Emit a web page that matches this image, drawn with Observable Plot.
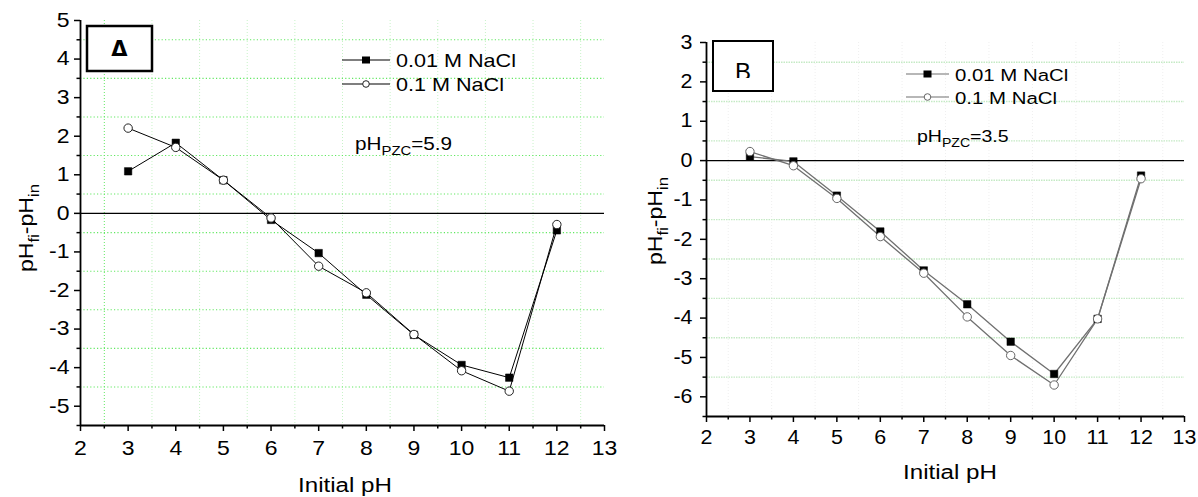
<!DOCTYPE html>
<html>
<head>
<meta charset="utf-8">
<script src="https://cdn.jsdelivr.net/npm/d3@7"></script>
<script src="https://cdn.jsdelivr.net/npm/@observablehq/plot@0.6"></script>
<style>
  html, body { margin: 0; padding: 0; background: #fff; }
  #wrap { position: relative; width: 1198px; height: 497px; overflow: hidden; }
  #wrap svg { position: absolute; top: 0; overflow: visible; }
</style>
</head>
<body>
<div id="wrap"></div>
<script>
// ---------- data ----------
const pHInitial = [3, 4, 5, 6, 7, 8, 9, 10, 11, 12];
const seriesNames = ["0.01 M NaCl", "0.1 M NaCl"];
// Panel A
const A_001 = [1.09, 1.83, 0.86, -0.17, -1.03, -2.11, -3.15, -3.93, -4.26, -0.44];
const A_01  = [2.21, 1.71, 0.86, -0.12, -1.37, -2.06, -3.14, -4.08, -4.61, -0.29];
// Panel B
const B_001 = [0.10, -0.02, -0.89, -1.80, -2.79, -3.65, -4.60, -5.42, -4.02, -0.38];
const B_01  = [0.23, -0.13, -0.96, -1.93, -2.86, -3.97, -4.95, -5.70, -4.02, -0.46];
const panelLetters = ["\u0394", "B"];
const pzcValues = ["5.9", "3.5"];
// ticks
const xTicks = [2, 3, 4, 5, 6, 7, 8, 9, 10, 11, 12, 13];
const xMinor = [2.5, 3.5, 4.5, 5.5, 6.5, 7.5, 8.5, 9.5, 10.5, 11.5, 12.5];
const yTicksA = [-5, -4, -3, -2, -1, 0, 1, 2, 3, 4, 5];
const yMinorA = [-5.5, -4.5, -3.5, -2.5, -1.5, -0.5, 0.5, 1.5, 2.5, 3.5, 4.5];
const yTicksB = [-6, -5, -4, -3, -2, -1, 0, 1, 2, 3];
const yMinorB = [-6.5, -5.5, -4.5, -3.5, -2.5, -1.5, -0.5, 0.5, 1.5, 2.5];

const FONT = "'Liberation Sans', Arial, Helvetica, sans-serif";
const rows = (ys) => pHInitial.map((x, i) => ({x, y: ys[i]}));

function makePanel(cfg) {
  const marks = [
    Plot.ruleX(cfg.vGridFaint, {x: d => d, stroke: cfg.vGridFaintColor, strokeDasharray: "1,2", strokeWidth: 1}),
    Plot.ruleX(cfg.vGridStrong, {x: d => d, stroke: cfg.gridColor, strokeDasharray: "1,2", strokeWidth: 1}),
    Plot.ruleY(cfg.hGrid, {y: d => d, stroke: cfg.gridColor, strokeDasharray: cfg.gridDash, strokeWidth: cfg.gridWidth}),
    Plot.ruleY([0], {stroke: "#000", strokeWidth: 1.2}),
    Plot.axisX({ticks: xTicks, tickSize: 6, tickPadding: cfg.xPad, tickFormat: d => String(d), label: null, stroke: "#000", strokeWidth: 1.5}),
    Plot.axisX({ticks: xMinor, tickSize: 3.5, tickFormat: () => "", label: null, stroke: "#000", strokeWidth: 1.5}),
    Plot.axisY({ticks: cfg.yTicks, tickSize: 6, tickPadding: cfg.yPad, tickFormat: d => String(d), label: null, stroke: "#000", strokeWidth: 1.5}),
    Plot.axisY({ticks: cfg.yMinor, tickSize: 3.5, tickFormat: () => "", label: null, stroke: "#000", strokeWidth: 1.5}),
    Plot.ruleX([2], {stroke: "#000", strokeWidth: 1.8}),
    Plot.ruleY([cfg.yDomain[0]], {stroke: "#000", strokeWidth: 1.8}),
    Plot.line(rows(cfg.s1), {x: "x", y: "y", stroke: cfg.lineColor, strokeWidth: cfg.lineWidth}),
    Plot.line(rows(cfg.s2), {x: "x", y: "y", stroke: cfg.lineColor, strokeWidth: cfg.lineWidth}),
    Plot.dot(rows(cfg.s1), {x: "x", y: "y", symbol: "square", r: 4.2, fill: "#000", stroke: "#000", strokeWidth: 0.5}),
    Plot.dot(rows(cfg.s2), {x: "x", y: "y", symbol: "circle", r: 4.2, fill: "#fff", stroke: cfg.circleStroke, strokeWidth: 1})
  ];
  const svg = Plot.plot({
    width: cfg.width, height: 497,
    marginLeft: cfg.ml, marginRight: cfg.mr, marginTop: cfg.mt, marginBottom: cfg.mb,
    x: {domain: [2, 13], label: null},
    y: {domain: cfg.yDomain, label: null},
    style: {fontFamily: FONT, color: "#000", background: "transparent"},
    marks
  });
  svg.style.left = cfg.left + "px";
  // enlarge & stretch tick labels like the reference
  d3.select(svg).selectAll('g[aria-label$="tick label"] text').each(function () {
    const t = d3.select(this);
    const tr = t.attr("transform") || "";
    t.attr("transform", tr + ` scale(${cfg.tickSX},1)`).style("font-size", cfg.tickFS + "px").attr("fill", "#000");
  });
  return svg;
}

function richText(sel, x, y, parts, size, opts = {}) {
  const t = sel.append("text")
    .attr("transform", `translate(${x},${y}) rotate(${opts.rotate || 0}) scale(${opts.sx || 1},1)`)
    .attr("text-anchor", opts.anchor || "start")
    .attr("font-family", FONT).attr("fill", "#000").style("font-size", size + "px");
  let shifted = false;
  parts.forEach(([s, sub]) => {
    const sp = t.append("tspan").text(s).style("font-size", (sub ? size * 0.72 : size) + "px");
    if (sub && !shifted) { sp.attr("dy", size * 0.3); shifted = true; }
    else if (!sub && shifted) { sp.attr("dy", -size * 0.3); shifted = false; }
  });
  return t;
}

function decorate(svg, cfg) {
  const s = d3.select(svg);
  const ox = cfg.left;
  const defs = s.append("defs");
  const cid = "clip" + cfg.id;
  defs.append("clipPath").attr("id", cid).append("rect")
    .attr("x", cfg.box.x - ox).attr("y", cfg.box.y).attr("width", cfg.box.w).attr("height", cfg.box.clipH);
  s.append("rect").attr("x", cfg.box.x - ox).attr("y", cfg.box.y).attr("width", cfg.box.w).attr("height", cfg.box.h)
    .attr("fill", "#fff").attr("stroke", "#000").attr("stroke-width", cfg.box.sw);
  s.append("text").attr("x", cfg.box.x - ox + cfg.box.w / 2).attr("y", cfg.box.ty)
    .attr("text-anchor", "middle").attr("font-family", cfg.box.font).style("font-size", cfg.box.fs + "px")
    .attr("font-weight", cfg.box.fw).attr("clip-path", `url(#${cid})`).attr("fill", "#000").text(cfg.letter);
  // legend
  seriesNames.forEach((name, i) => {
    const y = cfg.leg.y[i];
    s.append("line").attr("x1", cfg.leg.x1 - ox).attr("x2", cfg.leg.x2 - ox).attr("y1", y).attr("y2", y)
      .attr("stroke", cfg.lineColor).attr("stroke-width", 1.2);
    const mx = (cfg.leg.x1 + cfg.leg.x2) / 2 - ox;
    if (i === 0) s.append("rect").attr("x", mx - 4).attr("y", y - 3.5).attr("width", 8).attr("height", 7).attr("fill", "#000");
    else s.append("circle").attr("cx", mx).attr("cy", y).attr("r", 3.3).attr("fill", "#fff").attr("stroke", cfg.circleStroke).attr("stroke-width", 1);
    richText(s, cfg.leg.tx - ox, y + 6.5, [[name, false]], cfg.leg.fs, {sx: 1.2});
  });
  richText(s, cfg.pzc.x - ox, cfg.pzc.y, [["pH", false], ["PZC", true], ["=" + cfg.pzcValue, false]], cfg.pzc.fs, {sx: 1.15});
  richText(s, cfg.xl.x - ox, cfg.xl.y, [["Initial pH", false]], 21, {anchor: "middle", sx: 1.15});
  richText(s, cfg.yl.x - ox, cfg.yl.y, [["pH", false], ["fi", true], ["-pH", false], ["in", true]], 21, {anchor: "middle", rotate: -90, sx: 1.1});
}

const wrap = document.getElementById("wrap");

const cfgA = {
  id: "A", left: 0, width: 615, ml: 80, mr: 11, mt: 20, mb: 72,
  yDomain: [-5.5, 5], yTicks: yTicksA, yMinor: yMinorA, s1: A_001, s2: A_01,
  xPad: 9, yPad: 5, tickFS: 20, tickSX: 1.15,
  hGrid: [4.5, 3.5, 2.5, 1.5, 0.5, -0.5, -1.5, -2.5, -3.5, -4.5],
  vGridStrong: [2.5], vGridFaint: xMinor.filter(d => d !== 2.5),
  gridColor: "#62e862", vGridFaintColor: "#c8f3c8", gridDash: "1.2,2.2", gridWidth: 1.1,
  lineColor: "#000", lineWidth: 1, circleStroke: "#222",
  letter: panelLetters[0], pzcValue: pzcValues[0],
  box: {x: 87, y: 26, w: 65, h: 45, clipH: 45, sw: 2.5, ty: 56, fs: 21, fw: "bold", font: "'DejaVu Sans', sans-serif"},
  leg: {x1: 342, x2: 390, tx: 396, y: [60, 84], fs: 18},
  pzc: {x: 355, y: 150, fs: 18},
  xl: {x: 345, y: 492},
  yl: {x: 33, y: 228}
};
const cfgB = {
  id: "B", left: 615, width: 583, ml: 91, mr: 14, mt: 42, mb: 81,
  yDomain: [-6.5, 3], yTicks: yTicksB, yMinor: yMinorB, s1: B_001, s2: B_01,
  xPad: 8, yPad: 8, tickFS: 19.5, tickSX: 1.1,
  hGrid: [2.5, 1.5, 0.5, -0.5, -1.5, -2.5, -3.5, -4.5, -5.5],
  vGridStrong: [], vGridFaint: xMinor,
  gridColor: "#c5eac5", vGridFaintColor: "#efefef", gridDash: "1.5,1", gridWidth: 1.4,
  lineColor: "#707070", lineWidth: 1.3, circleStroke: "#666",
  letter: panelLetters[1], pzcValue: pzcValues[1],
  box: {x: 713, y: 41, w: 60, h: 50, clipH: 37, sw: 2, ty: 80, fs: 24, fw: "normal", font: FONT},
  leg: {x1: 906, x2: 949, tx: 955, y: [74, 97], fs: 17},
  pzc: {x: 917, y: 142, fs: 17},
  xl: {x: 950, y: 479},
  yl: {x: 662, y: 221}
};

[cfgA, cfgB].forEach(cfg => {
  const svg = makePanel(cfg);
  wrap.appendChild(svg);
  decorate(svg, cfg);
});
</script>
</body>
</html>
